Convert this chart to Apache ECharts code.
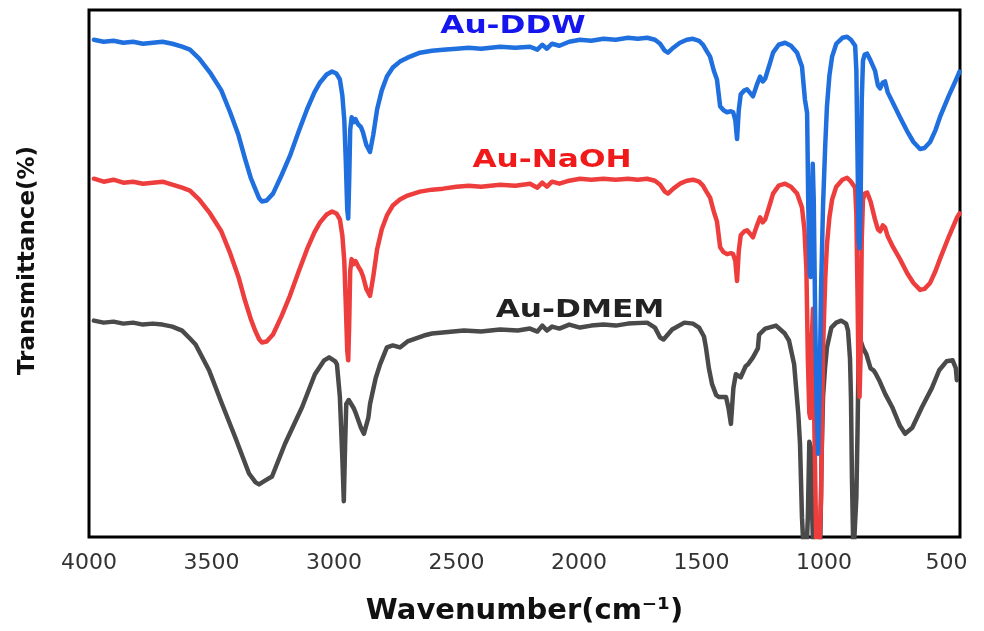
<!DOCTYPE html>
<html>
<head>
<meta charset="utf-8">
<title>FTIR spectra</title>
<script src="https://cdn.jsdelivr.net/npm/echarts@6/dist/echarts.min.js"></script>
<style>
    html, body { margin: 0; padding: 0; background: #fff; }
    #ftirChart { width: 984px; height: 631px; }
</style>
</head>
<body>
<div id="ftirChart"></div>
<script>
// x tick labels (cm-1), axis runs right to left
var xTicks = [4000, 3500, 3000, 2500, 2000, 1500, 1000, 500];

// Au-DDW (blue)
var ddwWave = [3980, 3940, 3900, 3860, 3820, 3780, 3740, 3700, 3660, 3620, 3588, 3550, 3506, 3460, 3424, 3390, 3363, 3340, 3322, 3305,
    3294, 3275, 3249, 3215, 3180, 3145, 3110, 3080, 3057, 3030, 3008, 2990, 2976, 2966, 2958, 2952, 2946, 2942, 2938, 2934,
    2928, 2920, 2912, 2902, 2890, 2882, 2868, 2853, 2840, 2824, 2805, 2784, 2760, 2731, 2700, 2649, 2600, 2555, 2500, 2450,
    2400, 2322, 2260, 2200, 2170, 2150, 2131, 2110, 2080, 2040, 1996, 1950, 1900, 1850, 1800, 1760, 1722, 1690, 1669, 1650,
    1637, 1615, 1588, 1560, 1535, 1510, 1494, 1480, 1465, 1450, 1437, 1424, 1410, 1396, 1380, 1371, 1362, 1355, 1348, 1340,
    1335, 1325, 1314, 1300, 1290, 1275, 1261, 1250, 1240, 1233, 1220, 1208, 1185, 1159, 1135, 1110, 1090, 1078, 1069, 1064,
    1058, 1055, 1050, 1046, 1042, 1036, 1030, 1024, 1018, 1012, 1004, 995, 988, 978, 967, 950, 925, 906, 890, 873,
    868, 863, 859, 855, 851, 846, 841, 834, 824, 810, 792, 780, 771, 760, 751, 740, 718, 690, 661, 635,
    608, 590, 567, 545, 527, 490, 457, 447];
var ddwT = [501, 499, 500, 498, 499, 497, 498, 499, 497, 494, 491, 482, 468, 450, 428, 405, 381, 362, 351, 341,
    338, 339, 346, 364, 384, 408, 431, 448, 458, 466, 469, 467, 461, 445, 420, 380, 330, 321, 360, 410,
    423, 418, 421, 416, 413, 408, 395, 388, 405, 431, 450, 464, 473, 479, 483, 488, 490, 491, 492, 493,
    492, 494, 493, 494, 491, 496, 492, 497, 495, 499, 501, 500, 502, 501, 503, 502, 503, 501, 497, 490,
    488, 493, 498, 501, 502, 500, 496, 490, 484, 470, 461, 434, 430, 428, 429, 428, 420, 401, 430, 446,
    448, 450, 451, 447, 444, 455, 464, 459, 462, 461, 478, 488, 496, 498, 495, 488, 474, 441, 427, 330,
    265, 262, 330, 376, 340, 220, 130, 84, 150, 250, 334, 395, 434, 465, 484, 497, 503, 504, 501, 495,
    470, 380, 300, 291, 330, 440, 480, 486, 487, 480, 470, 455, 452, 458, 459, 448, 437, 423, 409, 398,
    391, 392, 398, 410, 423, 445, 463, 469];

// Au-NaOH (red)
var naohWave = [3980, 3940, 3900, 3860, 3820, 3780, 3740, 3700, 3660, 3620, 3588, 3550, 3506, 3460, 3424, 3390, 3363, 3340, 3322, 3305,
    3294, 3275, 3249, 3215, 3180, 3145, 3110, 3080, 3057, 3030, 3008, 2990, 2976, 2966, 2958, 2952, 2946, 2942, 2938, 2934,
    2928, 2920, 2912, 2902, 2890, 2882, 2868, 2853, 2840, 2824, 2805, 2784, 2760, 2731, 2700, 2649, 2600, 2555, 2500, 2450,
    2400, 2322, 2260, 2200, 2170, 2150, 2131, 2110, 2080, 2040, 1996, 1950, 1900, 1850, 1800, 1760, 1722, 1690, 1669, 1650,
    1637, 1615, 1588, 1560, 1535, 1510, 1494, 1480, 1465, 1450, 1437, 1424, 1410, 1396, 1380, 1371, 1362, 1355, 1348, 1340,
    1335, 1325, 1314, 1300, 1290, 1275, 1261, 1250, 1240, 1233, 1220, 1208, 1185, 1159, 1135, 1110, 1090, 1080, 1072, 1066,
    1060, 1056, 1050, 1045, 1040, 1032, 1026, 1020, 1012, 1004, 995, 988, 978, 967, 950, 925, 906, 890, 873, 868,
    863, 859, 855, 851, 846, 841, 834, 824, 810, 792, 780, 771, 760, 751, 740, 718, 690, 661, 635, 608,
    590, 567, 545, 527, 490, 457, 447];
var naohT = [361, 358, 360, 357, 358, 356, 357, 358, 355, 352, 349, 340, 326, 308, 286, 262, 238, 220, 208, 199,
    196, 197, 204, 222, 243, 267, 290, 307, 317, 325, 328, 326, 320, 304, 278, 235, 188, 178, 215, 268,
    280, 275, 278, 273, 268, 263, 250, 243, 262, 290, 310, 324, 334, 340, 344, 348, 350, 351, 353, 354,
    353, 355, 354, 356, 352, 357, 353, 358, 356, 359, 361, 360, 361, 360, 361, 360, 361, 359, 355, 348,
    346, 351, 356, 359, 360, 358, 354, 348, 342, 328, 318, 292, 287, 285, 286, 285, 278, 258, 288, 304,
    306, 308, 309, 305, 302, 313, 322, 317, 320, 319, 336, 346, 354, 356, 353, 346, 332, 310, 270, 180,
    125, 120, 200, 230, 120, 0, -60, -60, 40, 190, 260, 295, 322, 340, 353, 360, 362, 358, 352, 325,
    240, 160, 141, 180, 300, 340, 346, 347, 338, 320, 310, 308, 314, 312, 303, 292, 280, 266, 256, 249,
    250, 256, 268, 280, 303, 322, 326];

// Au-DMEM (dark grey)
var dmemWave = [3980, 3940, 3900, 3860, 3820, 3780, 3740, 3700, 3660, 3620, 3588, 3565, 3510, 3457, 3404, 3347, 3320, 3306, 3280, 3253,
    3200, 3130, 3078, 3040, 3020, 2995, 2988, 2976, 2966, 2960, 2955, 2950, 2940, 2920, 2910, 2890, 2878, 2860, 2853, 2830,
    2812, 2784, 2760, 2731, 2700, 2633, 2600, 2470, 2400, 2322, 2250, 2200, 2170, 2150, 2131, 2110, 2080, 2040, 1996, 1950,
    1900, 1850, 1800, 1722, 1690, 1669, 1655, 1620, 1570, 1535, 1510, 1490, 1482, 1470, 1457, 1440, 1428, 1410, 1400, 1390,
    1380, 1370, 1360, 1340, 1320, 1310, 1290, 1270, 1265, 1240, 1196, 1160, 1143, 1122, 1105, 1098, 1090, 1082, 1074, 1066,
    1060, 1054, 1048, 1042, 1030, 1016, 1010, 1004, 996, 988, 970, 950, 930, 910, 902, 894, 890, 886, 880, 874,
    868, 863, 859, 855, 840, 827, 810, 798, 790, 775, 750, 722, 690, 669, 640, 600, 560, 530, 500, 475,
    462, 458];
var dmemT = [218, 216, 217, 215, 216, 214, 215, 214, 212, 208, 200, 194, 168, 134, 101, 64, 55, 53, 57, 61,
    94, 131, 164, 178, 181, 177, 174, 141, 80, 36, 90, 134, 138, 130, 124, 110, 104, 120, 134, 160,
    174, 191, 193, 191, 197, 203, 205, 208, 207, 209, 208, 210, 207, 213, 208, 212, 210, 214, 211, 213,
    214, 213, 215, 216, 211, 201, 199, 209, 216, 215, 211, 202, 191, 170, 154, 143, 141, 141, 141, 130,
    114, 150, 164, 161, 172, 174, 181, 190, 204, 210, 213, 205, 198, 174, 124, 94, 20, -20, -30, 20,
    96, 90, 20, -30, -40, -20, 80, 141, 170, 191, 211, 216, 218, 215, 208, 180, 141, 60, -20, -20,
    40, 110, 180, 201, 190, 184, 170, 168, 165, 158, 144, 131, 112, 104, 110, 131, 150, 168, 177, 178,
    170, 158];

function pairs(xs, ys) {
    var out = [];
    for (var i = 0; i < xs.length; i++) {
        out.push([xs[i], ys[i]]);
    }
    return out;
}

function spectrum(name, xs, ys, color) {
    return {
        name: name,
        type: 'line',
        showSymbol: false,
        smooth: false,
        clip: true,
        lineStyle: { color: color, width: 4.5, join: 'round', cap: 'round' },
        itemStyle: { color: color },
        data: pairs(xs, ys)
    };
}

var chartDom = document.getElementById('ftirChart');
var myChart = echarts.init(chartDom);
var option;

option = {
    animation: false,
    backgroundColor: '#fff',
    grid: {
        left: 89,
        right: 24,
        top: 10,
        bottom: 90,
        show: true,
        borderColor: '#000',
        borderWidth: 3,
        containLabel: false
    },
    xAxis: {
        type: 'value',
        inverse: true,
        min: 445,
        max: 4000,
        name: 'Wavenumber(cm⁻¹)',
        nameLocation: 'middle',
        nameGap: 60,
        nameTextStyle: {
            fontFamily: 'DejaVu Sans',
            fontWeight: 'bold',
            fontSize: 29,
            color: '#111'
        },
        axisLine: { show: false },
        axisTick: { show: false, customValues: xTicks },
        splitLine: { show: false },
        axisLabel: {
            customValues: xTicks,
            margin: 15,
            fontFamily: 'DejaVu Sans',
            fontSize: 22,
            color: '#333',
            formatter: function (value) {
                return String(value);
            }
        }
    },
    yAxis: {
        type: 'value',
        min: 0,
        max: 531,
        name: 'Transmittance(%)',
        nameLocation: 'middle',
        nameRotate: 90,
        nameGap: 49,
        nameTextStyle: {
            fontFamily: 'DejaVu Sans',
            fontWeight: 'bold',
            fontSize: 23,
            color: '#111',
            padding: [0, 0, 0, 26]
        },
        axisLine: { show: false },
        axisTick: { show: false },
        axisLabel: { show: false },
        splitLine: { show: false }
    },
    graphic: [
        {
            type: 'text', x: 513, y: 27, scaleX: 1.3,
            style: { text: 'Au-DDW', fill: '#1515ee', font: 'bold 24px "DejaVu Sans"', textAlign: 'center', textVerticalAlign: 'middle' }
        },
        {
            type: 'text', x: 552, y: 161, scaleX: 1.3,
            style: { text: 'Au-NaOH', fill: '#f01a1a', font: 'bold 24px "DejaVu Sans"', textAlign: 'center', textVerticalAlign: 'middle' }
        },
        {
            type: 'text', x: 580, y: 311, scaleX: 1.3,
            style: { text: 'Au-DMEM', fill: '#222', font: 'bold 24px "DejaVu Sans"', textAlign: 'center', textVerticalAlign: 'middle' }
        }
    ],
    series: [
        spectrum('Au-DMEM', dmemWave, dmemT, '#4a4a4a'),
        spectrum('Au-NaOH', naohWave, naohT, '#ee3d3d'),
        spectrum('Au-DDW', ddwWave, ddwT, '#1f6fde')
    ]
};

option && myChart.setOption(option);

window.onresize = function () {
    myChart.resize();
};
</script>
</body>
</html>
